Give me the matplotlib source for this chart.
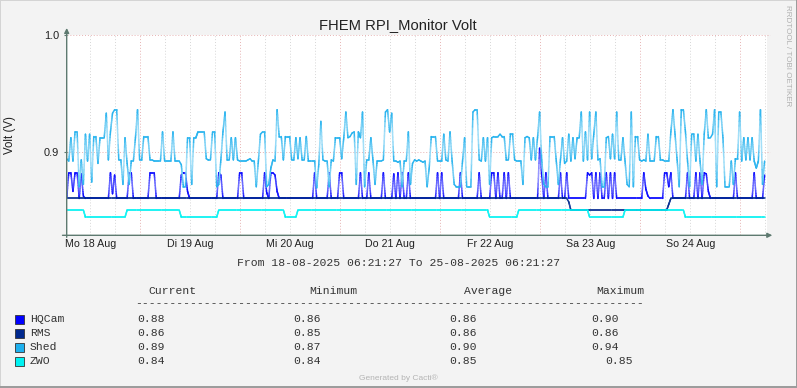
import numpy as np
import matplotlib
matplotlib.use('Agg')
import matplotlib.pyplot as plt
from matplotlib.lines import Line2D
from matplotlib.patches import Rectangle
from matplotlib.collections import LineCollection
from matplotlib.colors import to_rgb

W, H = 797, 388
# one sample every 30 minutes, 18-08-2025 06:21:27 -> 25-08-2025 06:21:27
N = 336

shed = [
    0.894, 0.892, 0.912, 0.892, 0.917, 0.917, 0.870, 0.893, 0.872, 0.915,
    0.892, 0.915, 0.874, 0.913, 0.913, 0.890, 0.912, 0.912, 0.912, 0.933,
    0.893, 0.917, 0.933, 0.936, 0.936, 0.893, 0.893, 0.872, 0.912, 0.890,
    0.872, 0.892, 0.892, 0.912, 0.936, 0.893, 0.893, 0.913, 0.913, 0.913,
    0.893, 0.893, 0.892, 0.892, 0.892, 0.892, 0.917, 0.892, 0.892, 0.892,
    0.892, 0.917, 0.892, 0.892, 0.892, 0.889, 0.870, 0.870, 0.912, 0.912,
    0.872, 0.912, 0.912, 0.917, 0.917, 0.917, 0.917, 0.894,
    0.893, 0.893, 0.917, 0.917, 0.870, 0.872, 0.893, 0.917, 0.934, 0.893,
    0.893, 0.912, 0.893, 0.912, 0.893, 0.892, 0.892, 0.892, 0.892, 0.893,
    0.894, 0.892, 0.892, 0.870, 0.892, 0.915, 0.917, 0.917, 0.870, 0.872,
    0.886, 0.893, 0.892, 0.936, 0.913, 0.913, 0.893, 0.913, 0.913, 0.913,
    0.893, 0.893, 0.912, 0.894, 0.912, 0.893, 0.893, 0.913, 0.892, 0.892,
    0.892, 0.892, 0.869, 0.889, 0.926, 0.893, 0.892, 0.892, 0.870, 0.893,
    0.892, 0.912, 0.912, 0.912, 0.894, 0.912, 0.934,
    0.912, 0.913, 0.916, 0.917, 0.872, 0.917, 0.912, 0.934, 0.870, 0.893,
    0.893, 0.912, 0.893, 0.872, 0.892, 0.892, 0.892, 0.893, 0.934, 0.936,
    0.917, 0.933, 0.892, 0.892, 0.891, 0.892, 0.870, 0.892, 0.892, 0.917,
    0.872, 0.890, 0.893, 0.892, 0.893, 0.892, 0.891, 0.892, 0.870, 0.886,
    0.913, 0.913, 0.913, 0.892, 0.892, 0.892, 0.915, 0.893, 0.892, 0.917,
    0.892, 0.872, 0.870, 0.870, 0.870, 0.892, 0.912, 0.870, 0.870, 0.870,
    0.934, 0.936, 0.936, 0.893, 0.892, 0.912, 0.892,
    0.912, 0.872, 0.912, 0.913, 0.913, 0.913, 0.915, 0.913, 0.913, 0.893,
    0.893, 0.915, 0.915, 0.893, 0.892, 0.892, 0.892, 0.872, 0.912, 0.913,
    0.912, 0.893, 0.912, 0.893, 0.912, 0.934, 0.893, 0.872, 0.870, 0.870,
    0.913, 0.913, 0.913, 0.892, 0.872, 0.893, 0.912, 0.890, 0.892, 0.915,
    0.892, 0.912, 0.894, 0.912, 0.912, 0.934, 0.892, 0.917, 0.893, 0.934,
    0.894, 0.915, 0.934, 0.893, 0.894, 0.870, 0.870, 0.912, 0.913, 0.894,
    0.915, 0.894, 0.934, 0.893, 0.893, 0.912, 0.892,
    0.872, 0.870, 0.934, 0.870, 0.913, 0.913, 0.893, 0.892, 0.893, 0.892,
    0.915, 0.892, 0.892, 0.892, 0.913, 0.913, 0.893, 0.893, 0.892, 0.892,
    0.892, 0.917, 0.936, 0.915, 0.893, 0.870, 0.936, 0.936, 0.917, 0.892,
    0.870, 0.915, 0.915, 0.892, 0.915, 0.892, 0.872, 0.915, 0.936, 0.912,
    0.912, 0.915, 0.936, 0.870, 0.934, 0.934, 0.912, 0.870, 0.870, 0.870,
    0.892, 0.872, 0.894, 0.894, 0.934, 0.892, 0.912, 0.893, 0.912, 0.893,
    0.912, 0.892, 0.886, 0.892, 0.936, 0.872, 0.892,
]

# HQCam sits at 0.86 with short peaks (sample index -> volt)
hqcam_base = 0.86
hqcam_peaks = {
    1: 0.882, 2: 0.882, 3: 0.866, 4: 0.882, 5: 0.882, 7: 0.881, 8: 0.862,
    21: 0.882, 22: 0.864, 23: 0.880, 30: 0.882, 31: 0.882,
    40: 0.882, 41: 0.882, 42: 0.882, 55: 0.880, 56: 0.882, 57: 0.882, 58: 0.866,
    73: 0.882, 74: 0.880, 83: 0.882, 84: 0.882,
    95: 0.882, 96: 0.865, 98: 0.882, 99: 0.882, 100: 0.880, 101: 0.866,
    119: 0.882, 126: 0.882, 131: 0.882, 132: 0.882,
    141: 0.882, 145: 0.882, 152: 0.882, 157: 0.881, 159: 0.882, 161: 0.882,
    164: 0.882, 178: 0.882, 180: 0.882, 189: 0.882, 198: 0.882,
    204: 0.882, 205: 0.882, 207: 0.882, 210: 0.882, 212: 0.882,
    227: 0.903, 228: 0.880, 230: 0.882, 237: 0.882, 240: 0.882,
    250: 0.882, 251: 0.880, 252: 0.882, 254: 0.882, 256: 0.882, 259: 0.882,
    261: 0.882, 263: 0.882,
    277: 0.882, 278: 0.868, 279: 0.862, 287: 0.882, 288: 0.882, 289: 0.870,
    290: 0.882, 298: 0.882, 302: 0.882, 304: 0.882, 306: 0.882, 307: 0.881,
    308: 0.866, 321: 0.882, 330: 0.882, 335: 0.880,
}

# RMS: flat 0.86, one stretch at 0.85 on Sa 23 Aug
rms_base = 0.86
rms_runs = [(242, 289, 0.85)]
rms_edges = {241: 0.857, 289: 0.855}

# ZWO switches between 0.850 and 0.844
zwo_base = 0.850
zwo_runs = [(9, 29, 0.844), (55, 73, 0.844), (105, 111, 0.844),
            (203, 217, 0.844), (251, 268, 0.844), (297, 336, 0.844)]

day_labels = ['Mo 18 Aug', 'Di 19 Aug', 'Mi 20 Aug', 'Do 21 Aug',
              'Fr 22 Aug', 'Sa 23 Aug', 'So 24 Aug']
first_noon = 11.28      # 18 Aug 12:00 in samples from start
first_midnight = 35.28  # 19 Aug 00:00

names = ['HQCam', 'RMS', 'Shed', 'ZWO']
colors = ['#0000FF', '#00288E', '#1EB0EE', '#00F2F2']
cur = ['0.88', '0.86', '0.89', '0.84']
mins = ['0.86', '0.85', '0.87', '0.84']
avgs = ['0.86', '0.86', '0.90', '0.85']
maxs = ['0.90', '0.86', '0.94', '0.85']

YMIN, YMAX = 0.8284, 1.0


def build(base, runs=(), points=None):
    s = np.full(N, base)
    for a, b, v in runs:
        s[a:b] = v
    for k, v in (points or {}).items():
        s[k] = v
    return s


def fx(x):
    return x / W


def fy(y):
    return 1 - y / H


def faded_line(ax, t, s, color, lw=1.1, z=2):
    # long vertical strokes fade to a paler tone in their middle,
    # like the gradient lines in the original graph
    base = np.array(to_rgb(color))
    px_per_v = 200.3 / (YMAX - YMIN)
    segs, cols = [], []
    for i in range(len(t) - 1):
        dy = abs(s[i + 1] - s[i]) * px_per_v
        m = 1 if dy < 4 else 10
        strength = min(1.0, dy / 35.0) * 0.6
        for j in range(m):
            u0, u1 = j / m, (j + 1) / m
            x0 = t[i] + (t[i + 1] - t[i]) * u0
            x1 = t[i] + (t[i + 1] - t[i]) * u1
            y0 = s[i] + (s[i + 1] - s[i]) * u0
            y1 = s[i] + (s[i + 1] - s[i]) * u1
            f = strength * np.sin(np.pi * (u0 + u1) / 2)
            segs.append([(x0, y0), (x1, y1)])
            cols.append(tuple(base + (1 - base) * f))
    lc = LineCollection(segs, colors=cols, linewidths=lw, zorder=z,
                        capstyle='round', joinstyle='round')
    ax.add_collection(lc)


series = [
    build(hqcam_base, points=hqcam_peaks),
    build(rms_base, rms_runs, rms_edges),
    np.array(shed),
    build(zwo_base, zwo_runs),
]
t = np.arange(N)

fig = plt.figure(figsize=(W / 100, H / 100), dpi=100, facecolor='#F3F3F3')
ax = fig.add_axes([fx(66.7), fy(235.3), 700 / W, 200.3 / H])
ax.set_facecolor('white')
ax.set_xlim(0, N)
ax.set_ylim(YMIN, YMAX)

axis_col = '#5E7A70'
dots = (0, (1, 2))
for k in np.arange(first_noon, N, 12):
    is_major = abs((k - first_midnight) % 48) < 0.01
    ax.axvline(k, color='#E6B3B3' if is_major else '#D6D6D6', lw=0.7,
               ls=dots, zorder=0.5)
for v in [0.9, 1.0]:
    ax.plot([0, N + 1.5], [v, v], color='#E6B3B3', lw=0.7, ls=dots,
            zorder=0.5, clip_on=False)

for i, (s, c) in enumerate(zip(series, colors)):
    faded_line(ax, t, s, c, lw=1.1, z=2 + i * 0.1)

for sp in ax.spines.values():
    sp.set_visible(False)
ax.annotate('', xy=(0, 1.035), xytext=(0, -0.01), xycoords='axes fraction',
            arrowprops=dict(arrowstyle='-|>', color=axis_col, lw=1,
                            mutation_scale=7, shrinkA=0, shrinkB=0))
ax.annotate('', xy=(1.008, 0), xytext=(-0.006, 0), xycoords='axes fraction',
            arrowprops=dict(arrowstyle='-|>', color=axis_col, lw=1,
                            mutation_scale=7, shrinkA=0, shrinkB=0))

sans = 'Liberation Sans'
mono = 'Liberation Mono'
ax.set_xticks(np.arange(first_noon, N, 48)[:len(day_labels)], day_labels)
ax.set_yticks([0.9, 1.0], ['0.9', '1.0'])
ax.tick_params(axis='x', length=0, pad=3, labelsize=7.7, labelcolor='#222222')
ax.tick_params(axis='y', length=2.5, width=0.8, color=axis_col, pad=3,
               labelsize=7.9, labelcolor='#222222')
for lab in ax.get_xticklabels() + ax.get_yticklabels():
    lab.set_family(sans)

fig.text(fx(398), fy(29), 'FHEM RPI_Monitor Volt', ha='center', va='baseline',
         family=sans, fontsize=10.6, color='#222222')
fig.text(fx(10.5), fy(135), 'Volt (V)', rotation=90, ha='center', va='center',
         family=sans, fontsize=8.3, color='#222222')
fig.text(fx(788), fy(56), 'RRDTOOL / TOBI OETIKER', rotation=270, ha='center',
         va='center', family=sans, fontsize=5.8, color='#B0B0B0')
fig.text(fx(398), fy(380.5), 'Generated by Cacti\u00ae', ha='center',
         va='baseline', family=sans, fontsize=6, color='#B4B4B4')

mkw = dict(family=mono, fontsize=8.2, color='#333333', va='baseline')
fig.text(fx(399), fy(266.5),
         'From 18-08-2025 06:21:27 To 25-08-2025 06:21:27', ha='center', **mkw)
for x, h in zip([148.5, 309.5, 463.5, 596], ['Current', 'Minimum', 'Average', 'Maximum']):
    fig.text(fx(x), fy(294), h, **mkw)
fig.text(fx(135), fy(306.5), '-' * 74, **mkw)
rows_y = [322.5, 336.4, 350.4, 364.4]
for i, y in enumerate(rows_y):
    fig.add_artist(Rectangle((fx(15.3), fy(y + 1.8)), 8.4 / W, 9.3 / H,
                             transform=fig.transFigure, facecolor=colors[i],
                             edgecolor='#333333', lw=0.6))
    fig.text(fx(30), fy(y), names[i], **mkw)
    fig.text(fx(137.5), fy(y), cur[i], **mkw)
    fig.text(fx(293), fy(y), mins[i], **mkw)
    fig.text(fx(449), fy(y), avgs[i], **mkw)
    fig.text(fx(605.5 if i == 3 else 591.5), fy(y), maxs[i], **mkw)

# frame round the image
fig.add_artist(Line2D([0, 0, 1], [0, 1, 1], transform=fig.transFigure,
                      color='#D4D4D4', lw=1.4))
fig.add_artist(Line2D([0, 1, 1], [0.0013, 0.0013, 1], transform=fig.transFigure,
                      color='#9A9A9A', lw=1.4))

fig.savefig('out.png', dpi=100, facecolor=fig.get_facecolor())
